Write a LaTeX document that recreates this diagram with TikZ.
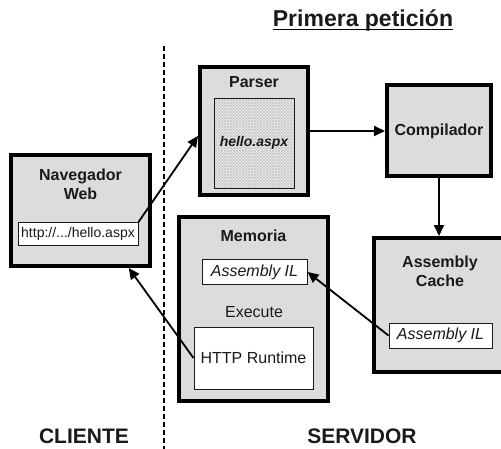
\documentclass[tikz,border=0pt]{standalone}
\usepackage{fontspec}
\setmainfont{Liberation Sans}
\usetikzlibrary{arrows.meta,patterns}

\definecolor{boxgray}{HTML}{DCDCDC}
\definecolor{ink}{HTML}{1A1A1A}

\begin{document}
\begin{tikzpicture}[x=1pt,y=-1pt,
  panel/.style={draw=black, line width=4pt, fill=boxgray, inner sep=0pt},
  inbox/.style={draw=ink, line width=1pt, fill=white, inner sep=0pt},
  lbl/.style={text=ink, font=\fontsize{16}{19}\selectfont\bfseries, align=center, inner sep=0pt},
  txt/.style={text=ink, font=\fontsize{16}{19}\selectfont, inner sep=0pt},
  side/.style={text=ink, font=\fontsize{21}{24}\selectfont\bfseries, inner sep=0pt},
  conn/.style={draw=black, line width=1.8pt, -{Triangle[length=11pt,width=10pt]}},
  divider/.style={draw=black, line width=1.8pt, dash pattern=on 5pt off 3pt}
]
\clip (0,0) rectangle (501,448);

% title
\node[text=ink, font=\fontsize{23}{26}\selectfont\bfseries, inner sep=0pt, anchor=base]
  (title) at (363,26) {Primera petición};
\draw[line width=1.8pt] ([yshift=-3.5pt]title.base west) -- ([yshift=-3.5pt]title.base east);

% client / server divider
\coordinate (divtop) at (164,46);
\coordinate (divbot) at (164,450);
\draw[divider] (divtop) -- (divbot);

% outer panels
\node[panel, minimum width=139pt, minimum height=111pt] (nav)    at (80.5,210.5) {};
\node[panel, minimum width=108pt, minimum height=128pt] (parser) at (254,131) {};
\node[panel, minimum width=104pt, minimum height=91pt]  (comp)   at (439,130.5) {};
\node[panel, minimum width=132pt, minimum height=134pt] (cache)  at (440,305) {};
\node[panel, minimum width=149pt, minimum height=184pt] (mem)    at (253.5,309) {};

% panel titles
\node[lbl] (navlbl)    at (80.5,184) {Navegador\\Web};
\node[lbl] (parserlbl) at (254,82) {Parser};
\node[lbl] (complbl)   at (439,131) {Compilador};
\node[lbl] (cachelbl)  at (440,271) {Assembly\\Cache};
\node[lbl] (memlbl)    at (253.5,236) {Memoria};

% inner boxes
\node[inbox, minimum width=120pt, minimum height=23pt,
      font=\fontsize{14}{16}\selectfont, text=ink] (url) at (78,234) {http://.../hello.aspx};
\node[inner sep=0pt, minimum width=80pt, minimum height=90pt,
      preaction={fill=white!88!gray},
      postaction={pattern=north east lines, pattern color=gray!45},
      postaction={pattern=north west lines, pattern color=gray!45},
      postaction={draw=ink, line width=1pt}] (hello) at (254,143) {};
\node[text=ink, font=\fontsize{14}{16}\selectfont\bfseries\itshape, inner sep=0pt]
  (hellolbl) at (254,143) {hello.aspx};
\node[inbox, minimum width=105pt, minimum height=25pt, txt, font=\fontsize{16}{19}\selectfont\itshape]
  (memIL) at (254.5,272) {Assembly IL};
\node[txt] (execlbl) at (254,312) {Execute};
\node[inbox, minimum width=119pt, minimum height=62pt, txt] (http) at (253.5,358) {HTTP Runtime};
\node[inbox, minimum width=103pt, minimum height=25pt, txt, font=\fontsize{16}{19}\selectfont\itshape]
  (cacheIL) at (440.5,335.5) {Assembly IL};

% connectors
\draw[conn] (url.north east) -- (parser.185);
\draw[conn] (parser.east) -- (parser.east -| comp.west);
\draw[conn] (comp.south) -- (comp.south |- cache.north);
\draw[conn] (cacheIL.west) -- (memIL.east);
\draw[conn] (http.west) -- (nav.-50);

% side captions
\node[side] (cliente)  at (84,436)  {CLIENTE};
\node[side] (servidor) at (362,436) {SERVIDOR};
\end{tikzpicture}
\end{document}
